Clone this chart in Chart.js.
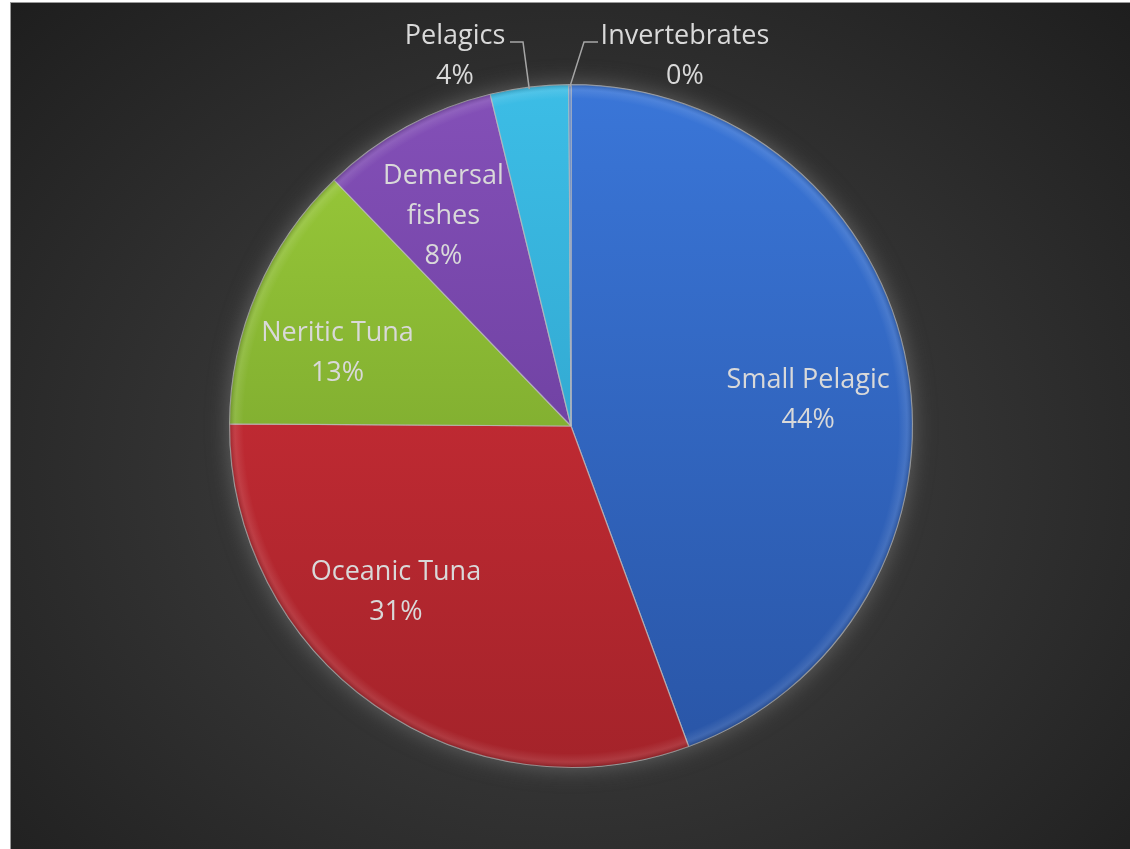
<!DOCTYPE html>
<html>
<head>
<meta charset="utf-8">
<script src="https://cdn.jsdelivr.net/npm/chart.js@4.4.0/dist/chart.umd.min.js"></script>
<style>
  html, body { margin: 0; padding: 0; background: #ffffff; }
  #panel {
    position: absolute; left: 10px; top: 2px; width: 1120px; height: 847px;
    border-top: 1px solid #9a9a9a; border-left: 1px solid #9a9a9a;
    background: radial-gradient(ellipse at 50% 55%, #424242 0%, #343434 45%, #1e1e1e 100%);
  }
  #wrap { position: absolute; left: 0; top: 0; width: 1130px; height: 849px; }
</style>
</head>
<body>
<div id="panel"></div>
<div id="wrap"><canvas id="pie"></canvas></div>
<script>
// data
const CATEGORIES = ['Small Pelagic', 'Oceanic Tuna', 'Neritic Tuna', 'Demersal fishes', 'Pelagics', 'Invertebrates'];
const SHARES = [44.4, 30.7, 12.7, 8.4, 3.7, 0.1];
const PERCENT_LABELS = ['44%', '31%', '13%', '8%', '4%', '0%'];
const LABEL_LINES = [['Small Pelagic'], ['Oceanic Tuna'], ['Neritic Tuna'], ['Demersal', 'fishes'], ['Pelagics'], ['Invertebrates']];

// colours: light (top) and dark (bottom) of each slice
const COLORS_TOP = ['#3a76d8', '#d8303a', '#9ccd3a', '#8450b8', '#3cbde6', '#3a76d8'];
const COLORS_BOTTOM = ['#2955a6', '#a4232a', '#6a9428', '#5e3590', '#2a98c0', '#2955a6'];

// label placement: inside at fraction of radius (with angle nudge, deg), or outside with offset
const LABEL_PLACE = [
    {inside: true, r: 0.70, nudge: 3},
    {inside: true, r: 0.70, nudge: 12},
    {inside: true, r: 0.72, nudge: -5},
    {inside: true, r: 0.73, nudge: -2},
    {inside: false, dx: -116, dy: -374, lineX: 510, elbowX: 523},
    {inside: false, dx: 114, dy: -374, lineX: 598, elbowX: 584}
];

const FONT = '27px "Open Sans", Lato, sans-serif';
const TEXT_COLOR = '#d9d9d9';
const LINE_H = 40;
const TEXT_SHIFT = 4;

function slice_gradient(context, i){
    let chart = context.chart;
    let area = chart.chartArea;
    if (!area) return COLORS_TOP[i];
    let g = chart.ctx.createLinearGradient(0, area.top, 0, area.bottom);
    g.addColorStop(0, COLORS_TOP[i]);
    g.addColorStop(1, COLORS_BOTTOM[i]);
    return g;
}

// soft glow under the pie
const glowPlugin = {
    id: 'glow',
    beforeDatasetsDraw(chart){
        let arc = chart.getDatasetMeta(0).data[0];
        if (!arc) return;
        let ctx = chart.ctx;
        ctx.save();
        ctx.shadowColor = 'rgba(110,110,110,0.85)';
        ctx.shadowBlur = 22;
        ctx.fillStyle = '#3a3a3a';
        ctx.beginPath();
        ctx.arc(arc.x, arc.y, arc.outerRadius, 0, Math.PI * 2);
        ctx.fill();
        ctx.restore();
    }
};

// bevel rim + labels
const labelPlugin = {
    id: 'labels',
    afterDatasetsDraw(chart){
        let ctx = chart.ctx;
        let meta = chart.getDatasetMeta(0);
        let first = meta.data[0];
        let cx = first.x, cy = first.y, R = first.outerRadius;

        // bevel highlight ring
        ctx.save();
        let rim = ctx.createRadialGradient(cx, cy, R - 14, cx, cy, R);
        rim.addColorStop(0, 'rgba(255,255,255,0)');
        rim.addColorStop(0.6, 'rgba(255,255,255,0.10)');
        rim.addColorStop(1, 'rgba(0,0,0,0.18)');
        ctx.fillStyle = rim;
        ctx.beginPath();
        ctx.arc(cx, cy, R, 0, Math.PI * 2);
        ctx.arc(cx, cy, R - 14, 0, Math.PI * 2, true);
        ctx.fill();
        ctx.restore();

        ctx.save();
        ctx.font = FONT;
        ctx.fillStyle = TEXT_COLOR;
        ctx.textAlign = 'center';
        ctx.textBaseline = 'middle';
        meta.data.forEach((arc, i)=>{
            let place = LABEL_PLACE[i];
            let lines = LABEL_LINES[i].concat([PERCENT_LABELS[i]]);
            let mid = (arc.startAngle + arc.endAngle) / 2;
            let tx, ty;
            if (place.inside){
                let a = mid + place.nudge * Math.PI / 180;
                tx = cx + Math.cos(a) * R * place.r;
                ty = cy + Math.sin(a) * R * place.r;
            }else{
                tx = cx + place.dx;
                ty = cy + place.dy;
                // leader line
                let ex = cx + Math.cos(mid) * R;
                let ey = cy + Math.sin(mid) * R;
                let lineY = ty - LINE_H / 2 + 10;
                ctx.save();
                ctx.strokeStyle = '#a6a6a6';
                ctx.lineWidth = 1.5;
                ctx.beginPath();
                ctx.moveTo(place.lineX, lineY);
                ctx.lineTo(place.elbowX, lineY);
                ctx.lineTo(ex, ey + 2);
                ctx.stroke();
                ctx.restore();
            }
            let y0 = ty - (lines.length - 1) * LINE_H / 2 + TEXT_SHIFT;
            lines.forEach((t, k)=>{
                ctx.fillText(t, tx, y0 + k * LINE_H);
            });
        });
        ctx.restore();
    }
};

function draw_pie(){
    const data = {
        labels: CATEGORIES,
        datasets: [{
            data: SHARES,
            backgroundColor: (ctx)=>slice_gradient(ctx, ctx.dataIndex),
            borderColor: 'rgba(190,190,190,0.75)',
            borderWidth: 1.2
        }]
    };
    const config = {
        type: 'pie',
        data: data,
        options: {
            responsive: false,
            animation: false,
            layout: { padding: { top: 84, bottom: 81, left: 12, right: 0 } },
            plugins: { legend: { display: false }, tooltip: { enabled: false } }
        },
        plugins: [glowPlugin, labelPlugin]
    };
    let canvas = document.getElementById('pie');
    canvas.width = 1130;
    canvas.height = 849;
    new Chart(canvas, config);
}
draw_pie();
</script>
</body>
</html>
